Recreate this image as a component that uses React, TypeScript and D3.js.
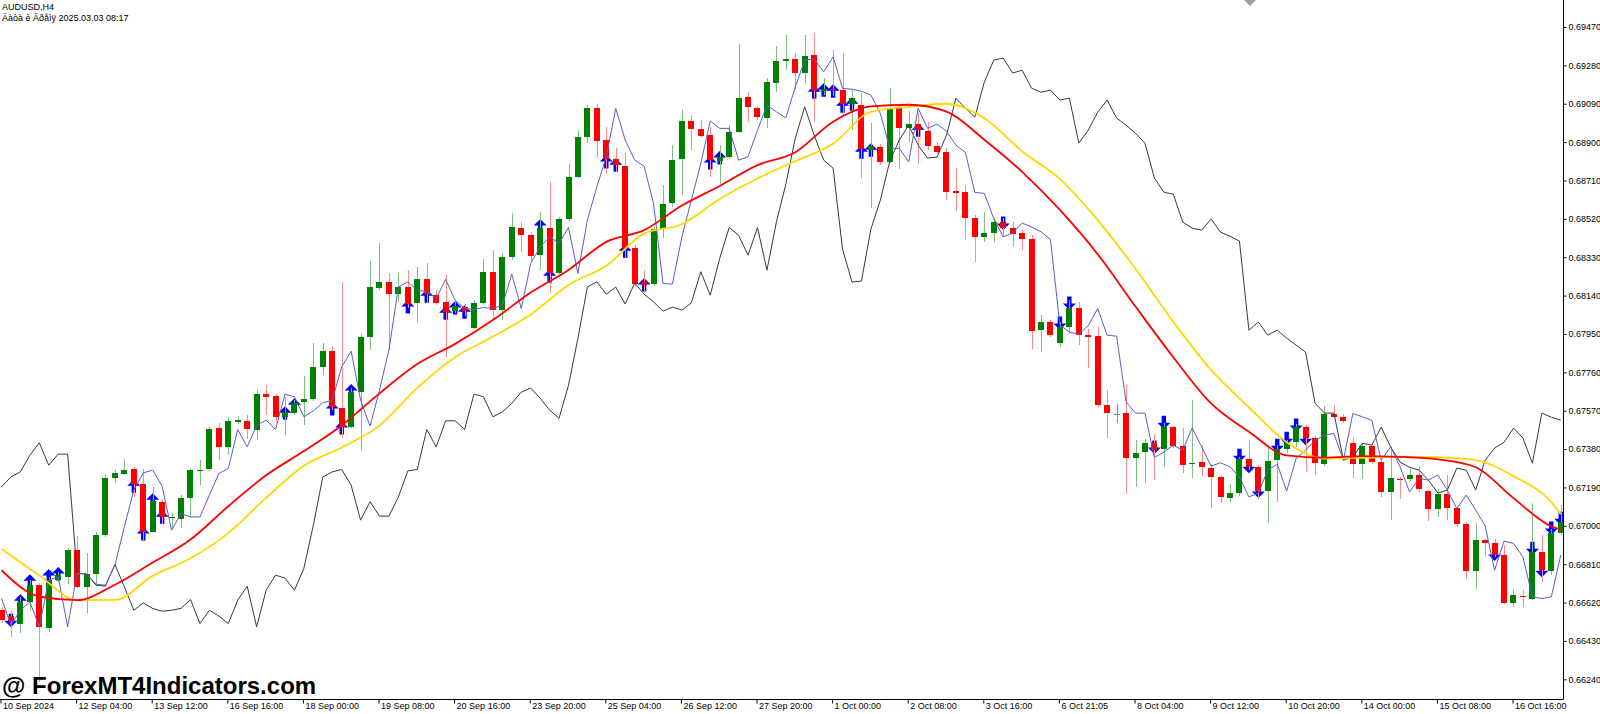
import React, { useRef, useEffect } from 'react';
import * as d3 from 'd3';

// AUDUSD H4, 166 bars starting 10 Sep 2024
const openP = [
  0.66582, 0.66553, 0.66516, 0.66623, 0.66706, 0.66492, 0.66731, 0.66747, 0.66879, 0.66698,
  0.66762, 0.66954, 0.67235, 0.67259, 0.67279, 0.67206, 0.66970, 0.67119, 0.67040, 0.67036,
  0.67140, 0.67273, 0.67279, 0.67482, 0.67391, 0.67517, 0.67520, 0.67474, 0.67652, 0.67642,
  0.67540, 0.67559, 0.67611, 0.67627, 0.67784, 0.67866, 0.67584, 0.67490, 0.67663, 0.67936,
  0.68180, 0.68208, 0.68147, 0.68183, 0.68101, 0.68223, 0.68141, 0.68108, 0.68064, 0.68084,
  0.67982, 0.68101, 0.68258, 0.68071, 0.68332, 0.68477, 0.68439, 0.68340, 0.68477, 0.68250,
  0.68519, 0.68728, 0.68923, 0.69067, 0.68910, 0.68814, 0.68781, 0.68378, 0.68208, 0.68197,
  0.68468, 0.68599, 0.68814, 0.69005, 0.68963, 0.68934, 0.68807, 0.68824, 0.68951, 0.69121,
  0.69067, 0.69019, 0.69195, 0.69304, 0.69311, 0.69243, 0.69331, 0.69155, 0.69162, 0.69156,
  0.69088, 0.69083, 0.68860, 0.68875, 0.68802, 0.69075, 0.68968, 0.68992, 0.68954, 0.68880,
  0.68852, 0.68656, 0.68651, 0.68522, 0.68428, 0.68448, 0.68505, 0.68477, 0.68451, 0.68419,
  0.67969, 0.68010, 0.67906, 0.67985, 0.68079, 0.67943, 0.67939, 0.67597, 0.67556, 0.67559,
  0.67334, 0.67366, 0.67411, 0.67378, 0.67490, 0.67397, 0.67306, 0.67314, 0.67288, 0.67244,
  0.67140, 0.67163, 0.67329, 0.67289, 0.67173, 0.67325, 0.67378, 0.67416, 0.67487, 0.67433,
  0.67305, 0.67556, 0.67540, 0.67411, 0.67305, 0.67394, 0.67317, 0.67168, 0.67232, 0.67230,
  0.67251, 0.67173, 0.67081, 0.67157, 0.67086, 0.67008, 0.66777, 0.66929, 0.66913, 0.66855,
  0.66618, 0.66654, 0.66640, 0.66871, 0.66777, 0.66962,
];

const highP = [
  0.66597, 0.66577, 0.66648, 0.66731, 0.66716, 0.66746, 0.66771, 0.66889, 0.66950, 0.66863,
  0.66970, 0.67254, 0.67276, 0.67330, 0.67292, 0.67279, 0.67193, 0.67132, 0.67064, 0.67152,
  0.67281, 0.67325, 0.67489, 0.67507, 0.67540, 0.67543, 0.67548, 0.67672, 0.67696, 0.67652,
  0.67639, 0.67622, 0.67741, 0.67903, 0.67903, 0.67890, 0.68208, 0.67682, 0.67952, 0.68311,
  0.68398, 0.68250, 0.68250, 0.68266, 0.68282, 0.68299, 0.68167, 0.68241, 0.68117, 0.68098,
  0.68117, 0.68319, 0.68368, 0.68349, 0.68547, 0.68505, 0.68456, 0.68555, 0.68703, 0.68528,
  0.68794, 0.68959, 0.69083, 0.69091, 0.68973, 0.68869, 0.68844, 0.68390, 0.68266, 0.68479,
  0.68687, 0.68885, 0.69058, 0.69034, 0.69009, 0.68976, 0.68885, 0.68984, 0.69385, 0.69149,
  0.69078, 0.69215, 0.69377, 0.69430, 0.69342, 0.69430, 0.69438, 0.69215, 0.69355, 0.69342,
  0.69157, 0.69141, 0.68997, 0.68890, 0.69166, 0.69083, 0.69053, 0.69042, 0.69000, 0.68900,
  0.68869, 0.68770, 0.68687, 0.68538, 0.68555, 0.68522, 0.68525, 0.68505, 0.68464, 0.68439,
  0.68043, 0.68018, 0.68009, 0.68117, 0.68109, 0.67977, 0.67989, 0.67675, 0.67602, 0.67699,
  0.67424, 0.67428, 0.67454, 0.67507, 0.67496, 0.67482, 0.67622, 0.67399, 0.67305, 0.67248,
  0.67208, 0.67340, 0.67424, 0.67300, 0.67399, 0.67399, 0.67424, 0.67503, 0.67498, 0.67444,
  0.67593, 0.67597, 0.67556, 0.67440, 0.67411, 0.67408, 0.67330, 0.67388, 0.67242, 0.67279,
  0.67292, 0.67177, 0.67180, 0.67251, 0.67092, 0.67018, 0.67012, 0.66937, 0.66937, 0.66904,
  0.66681, 0.66681, 0.67111, 0.66954, 0.66983, 0.67102,
];

const lowP = [
  0.66518, 0.66449, 0.66467, 0.66582, 0.66227, 0.66475, 0.66721, 0.66714, 0.66691, 0.66566,
  0.66714, 0.66944, 0.67210, 0.67251, 0.67143, 0.66929, 0.66969, 0.67008, 0.66982, 0.66987,
  0.67044, 0.67201, 0.67271, 0.67325, 0.67350, 0.67503, 0.67428, 0.67424, 0.67548, 0.67515,
  0.67449, 0.67548, 0.67498, 0.67617, 0.67746, 0.67573, 0.67433, 0.67484, 0.67375, 0.67870,
  0.68167, 0.67870, 0.68109, 0.68078, 0.68010, 0.68101, 0.68093, 0.67837, 0.68053, 0.68038,
  0.67974, 0.68093, 0.68018, 0.68018, 0.68316, 0.68357, 0.68307, 0.68266, 0.68151, 0.68241,
  0.68509, 0.68722, 0.68896, 0.68819, 0.68741, 0.68751, 0.68332, 0.68187, 0.68151, 0.68187,
  0.68423, 0.68579, 0.68637, 0.68860, 0.68925, 0.68728, 0.68695, 0.68816, 0.68943, 0.69000,
  0.69009, 0.68968, 0.69149, 0.69256, 0.69162, 0.69195, 0.69000, 0.69133, 0.69128, 0.69034,
  0.68959, 0.68720, 0.68574, 0.68789, 0.68796, 0.68766, 0.68901, 0.68794, 0.68860, 0.68840,
  0.68613, 0.68558, 0.68415, 0.68307, 0.68406, 0.68403, 0.68429, 0.68381, 0.68365, 0.67878,
  0.67861, 0.67934, 0.67886, 0.67949, 0.67895, 0.67779, 0.67589, 0.67437, 0.67507, 0.67158,
  0.67193, 0.67213, 0.67225, 0.67290, 0.67385, 0.67263, 0.67235, 0.67248, 0.67086, 0.67114,
  0.67119, 0.67148, 0.67276, 0.67135, 0.67013, 0.67119, 0.67360, 0.67391, 0.67267, 0.67251,
  0.67295, 0.67533, 0.67508, 0.67235, 0.67230, 0.67305, 0.67143, 0.67028, 0.67135, 0.67221,
  0.67168, 0.67025, 0.67044, 0.67028, 0.66995, 0.66739, 0.66685, 0.66846, 0.66845, 0.66612,
  0.66599, 0.66599, 0.66632, 0.66722, 0.66756, 0.66954,
];

const closeP = [
  0.66533, 0.66528, 0.66623, 0.66706, 0.66497, 0.66731, 0.66756, 0.66879, 0.66698, 0.66762,
  0.66954, 0.67237, 0.67262, 0.67276, 0.67206, 0.66970, 0.67124, 0.67044, 0.67045, 0.67140,
  0.67276, 0.67278, 0.67479, 0.67391, 0.67520, 0.67522, 0.67477, 0.67652, 0.67639, 0.67540,
  0.67564, 0.67609, 0.67627, 0.67784, 0.67866, 0.67589, 0.67490, 0.67663, 0.67936, 0.68183,
  0.68208, 0.68147, 0.68183, 0.68098, 0.68223, 0.68147, 0.68104, 0.68058, 0.68088, 0.68064,
  0.68101, 0.68258, 0.68071, 0.68332, 0.68479, 0.68439, 0.68335, 0.68473, 0.68250, 0.68519,
  0.68728, 0.68923, 0.69067, 0.68906, 0.68814, 0.68786, 0.68373, 0.68197, 0.68192, 0.68468,
  0.68596, 0.68811, 0.69005, 0.68963, 0.68930, 0.68811, 0.68827, 0.68951, 0.69119, 0.69072,
  0.69022, 0.69198, 0.69301, 0.69314, 0.69243, 0.69327, 0.69156, 0.69165, 0.69156, 0.69087,
  0.69118, 0.68865, 0.68880, 0.68802, 0.69070, 0.68968, 0.68990, 0.68958, 0.68881, 0.68849,
  0.68651, 0.68651, 0.68525, 0.68428, 0.68448, 0.68505, 0.68473, 0.68444, 0.68419, 0.67965,
  0.68010, 0.67944, 0.67985, 0.68079, 0.67944, 0.67938, 0.67597, 0.67558, 0.67556, 0.67334,
  0.67361, 0.67411, 0.67376, 0.67490, 0.67394, 0.67302, 0.67311, 0.67289, 0.67244, 0.67142,
  0.67163, 0.67329, 0.67289, 0.67173, 0.67322, 0.67378, 0.67411, 0.67487, 0.67433, 0.67309,
  0.67556, 0.67540, 0.67520, 0.67305, 0.67394, 0.67317, 0.67168, 0.67235, 0.67227, 0.67251,
  0.67180, 0.67081, 0.67157, 0.67086, 0.67008, 0.66777, 0.66929, 0.66916, 0.66855, 0.66618,
  0.66657, 0.66649, 0.66871, 0.66780, 0.66965, 0.67020,
];

// thin slate-blue indicator line, one value per bar
const blueLine = [
  0.66640, 0.66508, 0.66582, 0.66623, 0.66500, 0.66731, 0.66747, 0.66500, 0.66764, 0.66762,
  0.66711, 0.66706, 0.66805, 0.66995, 0.67177, 0.67262, 0.67276, 0.67196, 0.66978, 0.67061,
  0.67044, 0.67044, 0.67152, 0.67259, 0.67284, 0.67477, 0.67391, 0.67498, 0.67523, 0.67477,
  0.67652, 0.67639, 0.67540, 0.67569, 0.67609, 0.67622, 0.67787, 0.67865, 0.67622, 0.67493,
  0.67672, 0.67870, 0.68183, 0.68208, 0.68167, 0.68159, 0.68126, 0.68220, 0.68117, 0.68076,
  0.68071, 0.68081, 0.68076, 0.68093, 0.68246, 0.68076, 0.68299, 0.68381, 0.68431, 0.68398,
  0.68477, 0.68250, 0.68514, 0.68679, 0.68827, 0.69067, 0.68910, 0.68811, 0.68781, 0.68596,
  0.68200, 0.68197, 0.68431, 0.68613, 0.68794, 0.69005, 0.68968, 0.68968, 0.68811, 0.68827,
  0.68959, 0.69083, 0.69050, 0.69020, 0.69174, 0.69306, 0.69311, 0.69248, 0.69322, 0.69166,
  0.69162, 0.69152, 0.69133, 0.69042, 0.68869, 0.68869, 0.68802, 0.69067, 0.68968, 0.68989,
  0.68954, 0.68885, 0.68849, 0.68651, 0.68646, 0.68522, 0.68431, 0.68449, 0.68499, 0.68480,
  0.68456, 0.68418, 0.67994, 0.67960, 0.67949, 0.67991, 0.68076, 0.67944, 0.67939, 0.67614,
  0.67558, 0.67558, 0.67338, 0.67365, 0.67399, 0.67375, 0.67484, 0.67391, 0.67296, 0.67312,
  0.67292, 0.67242, 0.67143, 0.67162, 0.67276, 0.67305, 0.67172, 0.67334, 0.67375, 0.67424,
  0.67449, 0.67457, 0.67325, 0.67556, 0.67540, 0.67523, 0.67325, 0.67391, 0.67292, 0.67168,
  0.67235, 0.67226, 0.67251, 0.67177, 0.67086, 0.67152, 0.67078, 0.67000, 0.66780, 0.66924,
  0.66913, 0.66846, 0.66648, 0.66640, 0.66648, 0.66855,
];

// dark grey oscillator line drawn on the price scale, one value per bar
const greyLine = [
  0.67193, 0.67242, 0.67267, 0.67350, 0.67411, 0.67300, 0.67355, 0.67355, 0.66764, 0.66762,
  0.66706, 0.66701, 0.66809, 0.66698, 0.66582, 0.66618, 0.66591, 0.66577, 0.66582, 0.66591,
  0.66635, 0.66516, 0.66582, 0.66553, 0.66516, 0.66632, 0.66701, 0.66500, 0.66681, 0.66756,
  0.66741, 0.66681, 0.66790, 0.67003, 0.67242, 0.67267, 0.67279, 0.67201, 0.67028, 0.67119,
  0.67048, 0.67048, 0.67143, 0.67272, 0.67279, 0.67477, 0.67391, 0.67520, 0.67520, 0.67477,
  0.67652, 0.67639, 0.67540, 0.67564, 0.67607, 0.67662, 0.67682, 0.67632, 0.67573, 0.67533,
  0.67696, 0.67929, 0.68183, 0.68208, 0.68147, 0.68182, 0.68098, 0.68202, 0.68147, 0.68109,
  0.68063, 0.68083, 0.68068, 0.68104, 0.68258, 0.68142, 0.68324, 0.68477, 0.68439, 0.68340,
  0.68477, 0.68266, 0.68504, 0.68692, 0.68920, 0.69075, 0.68934, 0.68811, 0.68771, 0.68370,
  0.68207, 0.68212, 0.68469, 0.68613, 0.68806, 0.68910, 0.68984, 0.68885, 0.68821, 0.68826,
  0.68934, 0.69118, 0.69068, 0.69024, 0.69197, 0.69306, 0.69316, 0.69242, 0.69256, 0.69167,
  0.69147, 0.69157, 0.69108, 0.69118, 0.68895, 0.68959, 0.69048, 0.69108, 0.69019, 0.68984,
  0.68944, 0.68895, 0.68722, 0.68652, 0.68642, 0.68504, 0.68474, 0.68464, 0.68519, 0.68454,
  0.68434, 0.68410, 0.67969, 0.68009, 0.67944, 0.67969, 0.67929, 0.67895, 0.67860, 0.67607,
  0.67558, 0.67558, 0.67325, 0.67340, 0.67409, 0.67399, 0.67489, 0.67390, 0.67315, 0.67290,
  0.67276, 0.67226, 0.67162, 0.67177, 0.67286, 0.67276, 0.67177, 0.67325, 0.67385, 0.67414,
  0.67484, 0.67434, 0.67310, 0.67558, 0.67538, 0.67523,
];

// moving averages sampled every 4 bars
const maBars = [
  0, 4, 8, 12, 16, 20, 24, 28, 32, 36, 40, 44, 48, 52, 56, 60, 64, 68, 72, 76, 80, 84,
  88, 92, 96, 100, 104, 108, 112, 116, 120, 124, 128, 132, 136, 140, 144, 148, 152, 156,
  160, 164, 165,
];
const redMa = [
  0.66780, 0.66650, 0.66632, 0.66708, 0.66818, 0.66932, 0.67097, 0.67250, 0.67370, 0.67497,
  0.67656, 0.67801, 0.67901, 0.68019, 0.68155, 0.68267, 0.68406, 0.68464, 0.68586, 0.68683,
  0.68786, 0.68850, 0.69001, 0.69077, 0.69085, 0.69051, 0.68912, 0.68753, 0.68564, 0.68345,
  0.68086, 0.67835, 0.67606, 0.67466, 0.67349, 0.67338, 0.67345, 0.67341, 0.67329, 0.67290,
  0.67137, 0.66998, 0.66983,
];
const yellowMa = [
  0.66887, 0.66754, 0.66632, 0.66633, 0.66752, 0.66839, 0.66964, 0.67138, 0.67297, 0.67388,
  0.67496, 0.67683, 0.67835, 0.67937, 0.68046, 0.68193, 0.68288, 0.68447, 0.68493, 0.68618,
  0.68720, 0.68806, 0.68892, 0.69050, 0.69075, 0.69090, 0.69018, 0.68855, 0.68717, 0.68514,
  0.68273, 0.68010, 0.67772, 0.67587, 0.67414, 0.67333, 0.67336, 0.67343, 0.67340, 0.67325,
  0.67246, 0.67117, 0.67058,
];

// blue arrow signals
const upArrowBars = [2, 3, 5, 6, 14, 15, 16, 17, 30, 31, 35, 36, 37, 43, 45, 47, 48, 49, 57, 58,
  64, 65, 66, 68, 75, 76, 86, 87, 88, 89, 90, 91, 92, 97];
const upArrowPrices = [0.66627, 0.66726, 0.66751, 0.66761, 0.67196, 0.66959, 0.67127, 0.67043,
  0.67558, 0.67597, 0.67578, 0.67484, 0.67667, 0.68083, 0.68137, 0.68053, 0.68078, 0.68058,
  0.68484, 0.68236, 0.68801, 0.68786, 0.68360, 0.68192, 0.68796, 0.68821, 0.69147, 0.69157,
  0.69152, 0.69078, 0.69088, 0.68850, 0.68860, 0.68959];
const downArrowBars = [1, 106, 112, 113, 122, 123, 131, 132, 133, 135, 136, 137, 138, 158, 162,
  163, 164, 165];
const downArrowPrices = [0.66533, 0.68499, 0.68004, 0.68103, 0.67390, 0.67513, 0.67350, 0.67295,
  0.67172, 0.67399, 0.67434, 0.67499, 0.67434, 0.66860, 0.66889, 0.66780, 0.66989, 0.67038];

const priceTicks = [0.6624, 0.6643, 0.6662, 0.6681, 0.67, 0.6719, 0.6738, 0.6757, 0.6776,
  0.6795, 0.6814, 0.6833, 0.6852, 0.6871, 0.689, 0.6909, 0.6928, 0.6947];

// one label every 8 bars
const timeLabels = ['10 Sep 2024', '12 Sep 04:00', '13 Sep 12:00', '16 Sep 16:00',
  '18 Sep 00:00', '19 Sep 08:00', '20 Sep 16:00', '23 Sep 20:00', '25 Sep 04:00',
  '26 Sep 12:00', '27 Sep 20:00', '1 Oct 00:00', '2 Oct 08:00', '3 Oct 16:00', '6 Oct 21:05',
  '8 Oct 04:00', '9 Oct 12:00', '10 Oct 20:00', '14 Oct 00:00', '15 Oct 08:00', '16 Oct 16:00'];

const W = 1600;
const H = 714;
const plotRight = 1563;
const plotBottom = 699;
const FONT = '"Liberation Sans", Arial, sans-serif';

// fat Wingdings-style arrows
const UP_PATH = 'M0,-7 L6.5,-0.5 L2.2,-0.5 L2.2,6.5 L-2.2,6.5 L-2.2,-0.5 L-6.5,-0.5 Z';
const DOWN_PATH = 'M0,7 L6.5,0.5 L2.2,0.5 L2.2,-6.5 L-2.2,-6.5 L-2.2,0.5 L-6.5,0.5 Z';

const App: React.FC = () => {
  const ref = useRef<SVGSVGElement | null>(null);

  useEffect(() => {
    if (!ref.current) return;
    const svg = d3.select(ref.current);
    svg.selectAll('*').remove();

    const n = openP.length;
    const x = d3.scaleLinear().domain([0, n - 1]).range([0.5, 0.5 + 9.45 * (n - 1)]);
    const y = d3.scaleLinear().domain([0.6624, 0.6947]).range([679.3, 27.0]);

    svg.append('rect').attr('width', W).attr('height', H).attr('fill', '#fff');

    svg.append('defs').append('clipPath').attr('id', 'plot-clip')
      .append('rect').attr('x', 0).attr('y', 0).attr('width', plotRight).attr('height', plotBottom);

    const plot = svg.append('g').attr('clip-path', 'url(#plot-clip)');

    // arrows sit behind the candles
    const arrows = plot.append('g').attr('fill', '#0000ff');
    arrows.selectAll('path.up')
      .data(upArrowBars)
      .enter().append('path')
      .attr('class', 'up')
      .attr('d', UP_PATH)
      .attr('transform', (b, i) => `translate(${x(b) + 1},${y(upArrowPrices[i])})`);
    arrows.selectAll('path.down')
      .data(downArrowBars)
      .enter().append('path')
      .attr('class', 'down')
      .attr('d', DOWN_PATH)
      .attr('transform', (b, i) => `translate(${x(b) + 1},${y(downArrowPrices[i])})`);

    const bars = d3.range(n).map(i => ({ i, o: openP[i], h: highP[i], l: lowP[i], c: closeP[i] }));
    const bodyColor = (d: { o: number; c: number }) =>
      d.c > d.o ? '#008000' : d.c < d.o ? '#ff0000' : '#808080';
    const wickColor = (d: { o: number; c: number }) =>
      d.c > d.o ? '#7fbf7f' : d.c < d.o ? '#ff8c8c' : '#909090';

    const candles = plot.append('g').attr('shape-rendering', 'crispEdges');
    candles.selectAll('line')
      .data(bars)
      .enter().append('line')
      .attr('x1', d => Math.round(x(d.i)) + 1.5)
      .attr('x2', d => Math.round(x(d.i)) + 1.5)
      .attr('y1', d => y(d.h))
      .attr('y2', d => y(d.l))
      .attr('stroke', wickColor)
      .attr('stroke-width', 1);
    candles.selectAll('rect')
      .data(bars)
      .enter().append('rect')
      .attr('x', d => Math.round(x(d.i)) - 2)
      .attr('width', 6)
      .attr('y', d => y(Math.max(d.o, d.c)))
      .attr('height', d => Math.max(1.2, Math.abs(y(d.o) - y(d.c))))
      .attr('fill', bodyColor);

    const perBar = d3.line<number>().x((_, i) => x(i) + 1).y(d => y(d));
    plot.append('path')
      .attr('d', perBar(greyLine))
      .attr('fill', 'none')
      .attr('stroke', '#3a3a3a')
      .attr('stroke-width', 1);
    plot.append('path')
      .attr('d', perBar(blueLine))
      .attr('fill', 'none')
      .attr('stroke', '#5d5dc8')
      .attr('stroke-width', 1);

    const maLine = d3.line<number>()
      .x((_, i) => x(maBars[i]) + 1)
      .y(d => y(d))
      .curve(d3.curveMonotoneX);
    plot.append('path')
      .attr('d', maLine(yellowMa))
      .attr('fill', 'none')
      .attr('stroke', '#ffd700')
      .attr('stroke-width', 1.8);
    plot.append('path')
      .attr('d', maLine(redMa))
      .attr('fill', 'none')
      .attr('stroke', '#ff0000')
      .attr('stroke-width', 1.8);

    // frame
    svg.append('line')
      .attr('x1', plotRight + 0.5).attr('x2', plotRight + 0.5)
      .attr('y1', 0).attr('y2', plotBottom + 0.5)
      .attr('stroke', '#000');
    svg.append('line')
      .attr('x1', 0).attr('x2', plotRight + 0.5)
      .attr('y1', plotBottom + 0.5).attr('y2', plotBottom + 0.5)
      .attr('stroke', '#000');

    // price axis
    const yAxis = svg.append('g')
      .attr('transform', `translate(${plotRight + 0.5},0)`)
      .call(d3.axisRight(y).tickValues(priceTicks).tickFormat(d3.format('.5f')).tickSize(3).tickPadding(2));
    yAxis.select('.domain').remove();
    yAxis.selectAll('text').attr('font-family', FONT).attr('font-size', 9).attr('fill', '#000');
    yAxis.selectAll('line').attr('stroke', '#000');

    // time axis
    const timeBars = timeLabels.map((_, k) => k * 8);
    const xAxis = svg.append('g')
      .attr('transform', `translate(0,${plotBottom + 0.5})`)
      .call(d3.axisBottom(x).tickValues(timeBars)
        .tickFormat((_, k) => timeLabels[k]).tickSize(4).tickPadding(1));
    xAxis.select('.domain').remove();
    xAxis.selectAll('line').attr('stroke', '#000');
    xAxis.selectAll('text')
      .attr('font-family', FONT)
      .attr('font-size', 9)
      .attr('fill', '#000')
      .attr('text-anchor', 'start')
      .attr('dx', 2)
      .attr('dy', '0.55em');

    // header
    svg.append('text').attr('x', 2).attr('y', 10)
      .attr('font-family', FONT).attr('font-size', 9).attr('fill', '#000')
      .text('AUDUSD,H4');
    svg.append('text').attr('x', 2).attr('y', 21)
      .attr('font-family', FONT).attr('font-size', 9).attr('fill', '#000')
      .text('Äàòà è Âðåìÿ 2025.03.03 08:17');

    // chart shift marker
    svg.append('path')
      .attr('d', 'M1244,0 L1256,0 L1250,6 Z')
      .attr('fill', '#a0a0a0');

    // watermark
    svg.append('text').attr('x', 2).attr('y', 694)
      .attr('font-family', FONT).attr('font-size', 24).attr('font-weight', 'bold')
      .attr('fill', '#000')
      .text('@ ForexMT4Indicators.com');
  }, []);

  return (
    <svg
      ref={ref}
      width={W}
      height={H}
      style={{ position: 'absolute', left: 0, top: 0, display: 'block' }}
    />
  );
};

export default App;
